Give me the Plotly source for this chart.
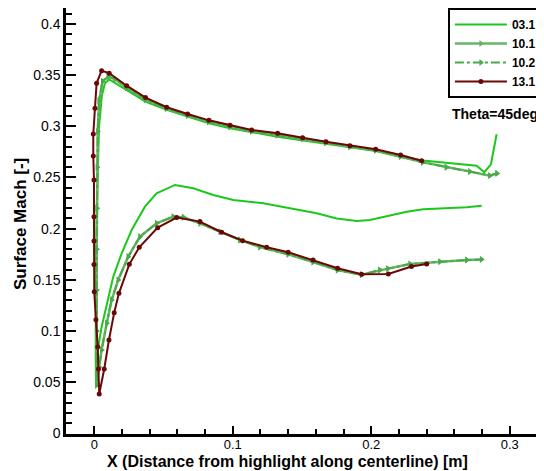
import plotly.graph_objects as go

# ---------------- data ----------------
series_names = ["03.1", "10.1", "10.2", "13.1"]

x_031 = [0.2905, 0.2864, 0.2816, 0.2761, 0.2373, 0.2212, 0.2032, 0.1846, 0.1673, 0.1505,
         0.1324, 0.0980, 0.0828, 0.0674, 0.0523, 0.0370, 0.0234, 0.0150, 0.0108, 0.0077,
         0.0055, 0.0035, 0.0025, 0.0018, 0.0013, 0.0010, 0.0010, 0.0012,
         0.0025, 0.0053, 0.0090, 0.0137, 0.0198, 0.0270, 0.0366, 0.0450, 0.0583, 0.0715,
         0.0859, 0.1004, 0.1220, 0.1460, 0.1606, 0.1750, 0.1895, 0.1990, 0.2087, 0.2160,
         0.2256, 0.2375, 0.2544, 0.2689, 0.2797]
y_031 = [0.2922, 0.2629, 0.2551, 0.2615, 0.2666, 0.2700, 0.2759, 0.2795, 0.2827, 0.2866,
         0.2898, 0.2980, 0.3030, 0.3094, 0.3160, 0.3240, 0.3355, 0.3430, 0.3457, 0.3420,
         0.3300, 0.3000, 0.2640, 0.2200, 0.1700, 0.1200, 0.0800, 0.0480,
         0.0815, 0.1040, 0.1270, 0.1530, 0.1760, 0.1987, 0.2215, 0.2346, 0.2427, 0.2395,
         0.2329, 0.2280, 0.2248, 0.2190, 0.2150, 0.2100, 0.2075, 0.2085, 0.2117, 0.2134,
         0.2166, 0.2190, 0.2200, 0.2210, 0.2225]

x_101 = [0.2910, 0.2857, 0.2713, 0.2544, 0.2373, 0.2212, 0.2032, 0.1846, 0.1673, 0.1505,
         0.1324, 0.1136, 0.0980, 0.0828, 0.0674, 0.0523, 0.0370, 0.0234, 0.0150, 0.0101,
         0.0060, 0.0035, 0.0025, 0.0022, 0.0020, 0.0018, 0.0018, 0.0018, 0.0016, 0.0017,
         0.0035, 0.0053, 0.0090, 0.0126, 0.0173, 0.0245, 0.0330, 0.0450, 0.0570, 0.0643,
         0.0763, 0.0908, 0.1052, 0.1196, 0.1400, 0.1580, 0.1757, 0.1930, 0.2063, 0.2120,
         0.2280, 0.2496, 0.2689, 0.2797]
y_101 = [0.2540, 0.2518, 0.2557, 0.2600, 0.2648, 0.2705, 0.2765, 0.2800, 0.2838, 0.2878,
         0.2915, 0.2950, 0.2995, 0.3045, 0.3105, 0.3172, 0.3262, 0.3375, 0.3460, 0.3485,
         0.3440, 0.3250, 0.2950, 0.2600, 0.2200, 0.1800, 0.1400, 0.1000, 0.0700, 0.0470,
         0.0650, 0.0815, 0.1076, 0.1304, 0.1500, 0.1727, 0.1922, 0.2053, 0.2117, 0.2111,
         0.2053, 0.1970, 0.1890, 0.1820, 0.1750, 0.1675, 0.1595, 0.1550, 0.1597, 0.1610,
         0.1655, 0.1678, 0.1694, 0.1700]

x_102 = [0.2905, 0.2855, 0.2710, 0.2540, 0.2370, 0.2210, 0.2030, 0.1845, 0.1670, 0.1505,
         0.1320, 0.1135, 0.0980, 0.0825, 0.0675, 0.0520, 0.0370, 0.0235, 0.0150, 0.0100,
         0.0060, 0.0035, 0.0025, 0.0022, 0.0020, 0.0018, 0.0018, 0.0018, 0.0016, 0.0017,
         0.0035, 0.0053, 0.0090, 0.0125, 0.0173, 0.0245, 0.0330, 0.0450, 0.0570, 0.0645,
         0.0765, 0.0910, 0.1050, 0.1195, 0.1400, 0.1580, 0.1755, 0.1930, 0.2060, 0.2120,
         0.2280, 0.2495, 0.2690, 0.2795]
y_102 = [0.2540, 0.2520, 0.2558, 0.2600, 0.2648, 0.2705, 0.2765, 0.2800, 0.2838, 0.2878,
         0.2915, 0.2950, 0.2995, 0.3045, 0.3105, 0.3172, 0.3262, 0.3375, 0.3460, 0.3485,
         0.3440, 0.3250, 0.2950, 0.2600, 0.2200, 0.1800, 0.1400, 0.1000, 0.0700, 0.0470,
         0.0650, 0.0815, 0.1076, 0.1304, 0.1500, 0.1727, 0.1922, 0.2053, 0.2117, 0.2111,
         0.2053, 0.1970, 0.1890, 0.1820, 0.1750, 0.1675, 0.1595, 0.1550, 0.1597, 0.1610,
         0.1655, 0.1678, 0.1694, 0.1700]

x_131 = [0.2364, 0.2212, 0.2032, 0.1846, 0.1673, 0.1505, 0.1324, 0.1136, 0.0980, 0.0828,
         0.0674, 0.0523, 0.0370, 0.0234, 0.0108, 0.0053, 0.0017, 0.0005, -0.0007, -0.0007,
         -0.0002, -0.0002, -0.0002, -0.0002, 0.0000, 0.0012, 0.0025, 0.0030, 0.0036,
         0.0072, 0.0106, 0.0144, 0.0178, 0.0253, 0.0325, 0.0458, 0.0595, 0.0763, 0.0920,
         0.1071, 0.1245, 0.1400, 0.1580, 0.1757, 0.1930, 0.2123, 0.2290, 0.2400]
y_131 = [0.2664, 0.2720, 0.2775, 0.2810, 0.2850, 0.2889, 0.2932, 0.2964, 0.3010, 0.3058,
         0.3120, 0.3186, 0.3280, 0.3396, 0.3518, 0.3543, 0.3420, 0.3176, 0.2925, 0.2710,
         0.2476, 0.2117, 0.1880, 0.1650, 0.1385, 0.1110, 0.0848, 0.0630, 0.0386,
         0.0630, 0.0913, 0.1180, 0.1369, 0.1652, 0.1818, 0.2010, 0.2108, 0.2069, 0.1965,
         0.1883, 0.1818, 0.1770, 0.1694, 0.1613, 0.1555, 0.1557, 0.1630, 0.1655]

y_tick_vals = [0, 0.05, 0.1, 0.15, 0.2, 0.25, 0.3, 0.35, 0.4]
y_tick_text = ["0", "0.05", "0.1", "0.15", "0.2", "0.25", "0.3", "0.35", "0.4"]
x_tick_vals = [0, 0.1, 0.2, 0.3]
x_tick_text = ["0", "0.1", "0.2", "0.3"]

# ---------------- figure ----------------
# The page body keeps the browser's default 8 px margin, so the figure is
# sized/positioned to compensate (figure = window - 8 px).
FONT = "Liberation Sans, Arial, Helvetica, sans-serif"
fig = go.Figure()

fig.add_trace(go.Scatter(x=x_031, y=y_031, name=series_names[0], mode="lines",
                         line=dict(color="#1cc81c", width=2)))
fig.add_trace(go.Scatter(x=x_101, y=y_101, name=series_names[1], mode="lines+markers",
                         line=dict(color="#66b466", width=2.5),
                         marker=dict(symbol="triangle-right", size=6, color="#66b466")))
fig.add_trace(go.Scatter(x=x_102, y=y_102, name=series_names[2], mode="lines+markers",
                         line=dict(color="#49aa49", width=2, dash="dashdot"),
                         marker=dict(symbol="triangle-right", size=6, color="#49aa49")))
fig.add_trace(go.Scatter(x=x_131, y=y_131, name=series_names[3], mode="lines+markers",
                         line=dict(color="#6a0808", width=2),
                         marker=dict(symbol="circle", size=5, color="#6a0808")))

axis_common = dict(showgrid=False, zeroline=False, showline=True, linecolor="black",
                   ticks="inside", tickcolor="black", automargin=False)

fig.update_xaxes(range=[-0.0204, 0.3247], tickvals=x_tick_vals, ticktext=x_tick_text,
                 linewidth=2.5, mirror=True, ticklen=8, tickwidth=2,
                 ticklabelstandoff=-3,
                 tickfont=dict(family=FONT, size=13, color="black"),
                 minor=dict(ticks="inside", dtick=0.02, ticklen=5, tickwidth=1.5, tickcolor="black"),
                 **axis_common)
fig.update_yaxes(range=[-0.0005, 0.4155], tickvals=y_tick_vals, ticktext=y_tick_text,
                 linewidth=2.5, ticklen=10, tickwidth=2,
                 tickfont=dict(family=FONT, size=14, color="black"),
                 minor=dict(ticks="inside", dtick=0.01, ticklen=6, tickwidth=1.5, tickcolor="black"),
                 **axis_common)

fig.update_layout(
    width=536, height=463,
    margin=dict(l=58, r=0, t=0, b=37, autoexpand=False),
    paper_bgcolor="white", plot_bgcolor="white",
    font=dict(family=FONT, color="black"),
    showlegend=True,
    legend=dict(x=0.799, y=1.0, xanchor="left", yanchor="top",
                bordercolor="black", borderwidth=2, bgcolor="white",
                font=dict(family=FONT, size=12, color="black", weight="bold"),
                itemwidth=52, tracegroupgap=0),
    annotations=[
        dict(text="Surface Mach [-]", textangle=-90, xref="paper", yref="paper",
             x=-0.0941, y=0.493, xanchor="center", yanchor="middle", showarrow=False,
             font=dict(family=FONT, size=17, color="black", weight="bold")),
        dict(text="X (Distance from highlight along centerline) [m]", xref="paper", yref="paper",
             x=0.4644, y=-0.0645, xanchor="center", yanchor="middle", showarrow=False,
             font=dict(family=FONT, size=16, color="black", weight="bold")),
        dict(text="Theta=45deg", xref="paper", yref="paper",
             x=0.8033, y=0.751, xanchor="left", yanchor="middle", showarrow=False,
             font=dict(family=FONT, size=14, color="black", weight="bold")),
    ],
)

fig.write_html("out.html")
